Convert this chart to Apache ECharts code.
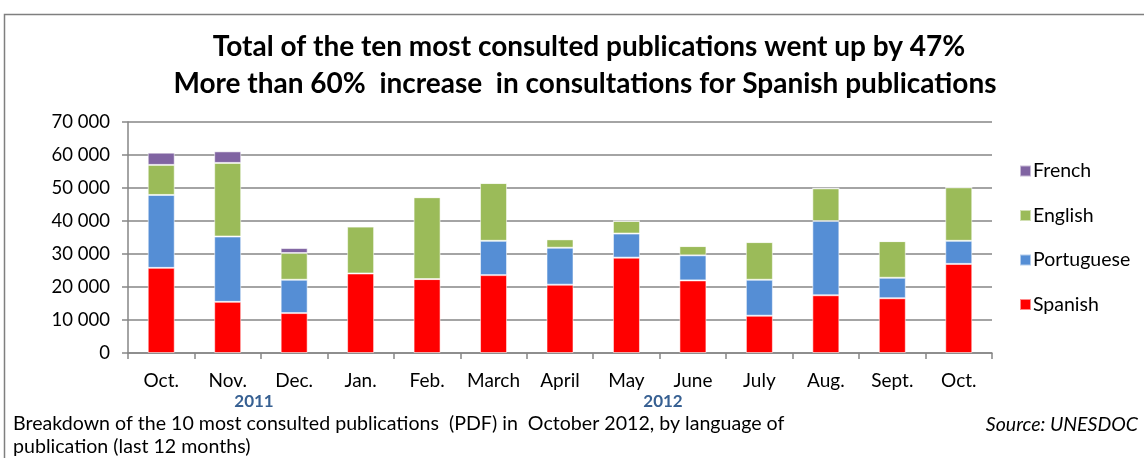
<!DOCTYPE html>
<html>
<head>
<meta charset="utf-8">
<script src="https://cdn.jsdelivr.net/npm/echarts@6/dist/echarts.min.js"></script>
<style>
html,body{margin:0;padding:0;background:#fff;}
#chart{width:1144px;height:458px;}
</style>
</head>
<body>
<div id="chart"></div>
<script>
// months (Oct 2011 -> Oct 2012)
var months = ['Oct.','Nov.','Dec.','Jan.','Feb.','March','April','May','June','July','Aug.','Sept.','Oct.'];
// consultations per language
var spanish    = [25800, 15500, 12100, 24100, 22400, 23600, 20700, 28900, 22000, 11300, 17500, 16600, 27000];
var portuguese = [22100, 19800, 10100,     0,     0, 10400, 11200,  7300,  7600, 10900, 22500,  6200,  7000];
var english    = [ 9100, 22300,  8100, 14200, 24800, 17500,  2550,  3800,  2800, 11400,  9900, 11100, 16200];
var french     = [ 3700,  3500,  1500,     0,     0,     0,     0,     0,     0,     0,     0,     0,     0];
var yTicks = [0, 10000, 20000, 30000, 40000, 50000, 60000, 70000];

var font = 'Lato';
var myChart = echarts.init(document.getElementById('chart'));

function mkSeries(name, data, color){
	return {
		name: name,
		type: 'bar',
		stack: 'all',
		barWidth: 27,
		data: data,
		itemStyle: {color: color, borderColor: 'rgba(255,255,255,0.55)', borderWidth: 1},
		emphasis: {disabled: true}
	};
}

var option = {
	animation: false,
	backgroundColor: '#fff',
	grid: {left: 128, right: 152, top: 122, bottom: 105, containLabel: false},
	legend: {
		orient: 'vertical',
		left: 1014,
		top: 156,
		itemWidth: 11,
		itemHeight: 11,
		itemGap: 24.5,
		icon: 'rect',
		data: ['French','English','Portuguese','Spanish'],
		textStyle: {fontFamily: font, fontSize: 19.5, color: '#000', padding: [0,0,0,-3]}
	},
	xAxis: {
		type: 'category',
		data: months,
		boundaryGap: true,
		axisLine: {lineStyle: {color: '#868686', width: 1.5}},
		axisTick: {show: true, length: 6, lineStyle: {color: '#868686', width: 1.5}},
		axisLabel: {fontFamily: font, fontSize: 19, color: '#000', margin: 18, interval: 0}
	},
	yAxis: {
		type: 'value',
		min: 0,
		max: 70000,
		interval: 10000,
		axisLine: {show: true, lineStyle: {color: '#868686', width: 1.5}},
		axisTick: {show: true, length: 6, lineStyle: {color: '#868686', width: 1.5}},
		splitLine: {lineStyle: {color: '#868686', width: 1.5}},
		axisLabel: {
			fontFamily: font, fontSize: 18.5, color: '#000', margin: 18,
			formatter: function(v){
				if(yTicks.indexOf(v) < 0) return '';
				return v === 0 ? '0' : String(v).replace(/(\d+)(\d{3})$/, '$1 $2');
			}
		}
	},
	graphic: [
		{type: 'rect', shape: {x: 4.5, y: 14.5, width: 1300, height: 600}, style: {fill: 'none', stroke: '#7f7f7f', lineWidth: 1.5}, silent: true},
		{type: 'text', x: 589, y: 47, style: {text: 'Total of the ten most consulted publications went up by 47%', fontFamily: font, fontWeight: 'bold', fontSize: 28, fill: '#000', textAlign: 'center', textVerticalAlign: 'middle'}},
		{type: 'text', x: 585, y: 84, style: {text: 'More than 60%  increase  in consultations for Spanish publications', fontFamily: font, fontWeight: 'bold', fontSize: 28, fill: '#000', textAlign: 'center', textVerticalAlign: 'middle'}},
		{type: 'text', x: 254, y: 402, style: {text: '2011', fontFamily: font, fontWeight: 'bold', fontSize: 17, fill: '#376092', textAlign: 'center', textVerticalAlign: 'middle'}},
		{type: 'text', x: 663, y: 402, style: {text: '2012', fontFamily: font, fontWeight: 'bold', fontSize: 17, fill: '#376092', textAlign: 'center', textVerticalAlign: 'middle'}},
		{type: 'text', x: 13, y: 424, style: {text: 'Breakdown of the 10 most consulted publications  (PDF) in  October 2012, by language of', fontFamily: font, fontSize: 19.6, fill: '#000', textAlign: 'left', textVerticalAlign: 'middle'}},
		{type: 'text', x: 13, y: 447, style: {text: 'publication (last 12 months)', fontFamily: font, fontSize: 19.6, fill: '#000', textAlign: 'left', textVerticalAlign: 'middle'}},
		{type: 'text', x: 1138, y: 425, style: {text: 'Source: UNESDOC', fontFamily: font, fontStyle: 'italic', fontSize: 19.5, fill: '#000', textAlign: 'right', textVerticalAlign: 'middle'}}
	],
	series: [
		mkSeries('Spanish', spanish, '#FF0000'),
		mkSeries('Portuguese', portuguese, '#558ED5'),
		mkSeries('English', english, '#9BBB59'),
		mkSeries('French', french, '#8064A2')
	]
};
myChart.setOption(option);
</script>
</body>
</html>
